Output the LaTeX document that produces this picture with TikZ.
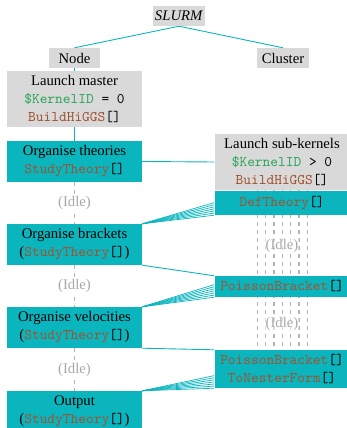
\documentclass[tikz,border=0pt]{standalone}
\usepackage{fontspec}
\setmainfont{Liberation Serif}
\setmonofont{lmmono10-regular}[Extension=.otf]
\usetikzlibrary{calc,backgrounds}

\definecolor{boxcyan}{HTML}{0BB5BE}
\definecolor{boxgray}{HTML}{D9D9D9}
\definecolor{codegreen}{HTML}{2CA55A}
\definecolor{codebrown}{HTML}{A0522D}
\definecolor{idlegray}{HTML}{A8A8A8}
\definecolor{dashgray}{HTML}{B4B4B4}

% code snippets
\newcommand\kernelid{\textcolor{codegreen}{\$KernelID}}
\newcommand\wlfun[1]{\textcolor{codebrown}{#1}[]}

\tikzset{
  basefont/.style={font=\fontsize{14.7}{18}\selectfont},
  plainbox/.style={rectangle, inner sep=0pt, align=center, basefont},
  graybox/.style={plainbox, fill=boxgray},
  cyanbox/.style={plainbox, fill=boxcyan, minimum width=135pt},
  conn/.style={draw=boxcyan, line width=0.9pt},
  fanline/.style={draw=boxcyan, line width=0.7pt},
  idleline/.style={draw=dashgray, line width=1.4pt, dash pattern=on 4pt off 4pt},
  idletext/.style={text=idlegray, basefont, inner sep=1pt},
}

\begin{document}
\begin{tikzpicture}[x=1pt, y=-1pt]
\useasboundingbox (0,0) rectangle (347,428);

% job scheduler and its two branches
\node[graybox, minimum width=52pt, minimum height=20pt] (slurm) at (179,16) {\textit{SLURM}};
\node[graybox, minimum width=51pt, minimum height=20pt] (node) at (74.5,58) {Node};
\node[graybox, minimum width=52pt, minimum height=20pt] (cluster) at (283,58) {Cluster};

% master kernel
\node[graybox, minimum width=135pt, minimum height=56pt] (master) at (74.5,99)
  {Launch master\\ \texttt{\kernelid{} = 0}\\ \texttt{\wlfun{BuildHiGGS}}};
\node[cyanbox, minimum height=41pt] (theories) at (74.5,161.5)
  {Organise theories\\ \texttt{\wlfun{StudyTheory}}};
\node[cyanbox, minimum height=41pt] (brackets) at (74.5,244.5)
  {Organise brackets\\ (\texttt{\wlfun{StudyTheory}})};
\node[cyanbox, minimum height=41pt] (velocities) at (74.5,327.5)
  {Organise velocities\\ (\texttt{\wlfun{StudyTheory}})};
\node[cyanbox, minimum height=41pt] (output) at (74.5,411.5)
  {Output\\ (\texttt{\wlfun{StudyTheory}})};

% sub-kernels
\node[graybox, minimum width=135pt, minimum height=56pt] (subk) at (282,162)
  {Launch sub-kernels\\ \texttt{\kernelid{} > 0}\\ \texttt{\wlfun{BuildHiGGS}}};
\node[cyanbox, minimum height=24pt] (deftheory) at (282,203)
  {\texttt{\wlfun{DefTheory}}};
\node[cyanbox, minimum height=21pt] (pb) at (282,286.5)
  {\texttt{\wlfun{PoissonBracket}}};
\node[cyanbox, minimum height=38pt] (pbtnf) at (282,369)
  {\texttt{\wlfun{PoissonBracket}}\\ \texttt{\wlfun{ToNesterForm}}};

\begin{scope}[on background layer]
  % hierarchy
  \draw[conn] (slurm.south) -- (node.north);
  \draw[conn] (slurm.south) -- (cluster.north);
  \draw[conn] (node.south) -- (master.north);
  \draw[conn] (master.south) -- (theories.north);
  \draw[conn] (theories.east) -- (subk.west);
  % jobs handed to the sub-kernels
  \draw[conn] (brackets.south east) -- (pb.north west);
  \draw[conn] (velocities.south east) -- (pbtnf.north west);
  % results gathered from the seven sub-kernels
  \foreach \k in {0,...,6} {
    \draw[fanline] (brackets.north east) -- ($(deftheory.south west)+(0,-2.1*\k)$);
    \draw[fanline] (velocities.north east) -- ($(pb.south west)+(0,-2.1*\k)$);
    \draw[fanline] (output.north east) -- ($(pbtnf.south west)+(0,-2.1*\k)$);
  }
  % idle sub-kernels
  \foreach \i in {0,...,6} {
    \draw[idleline] ($(subk.south)+(-24.7+8.33*\i,0)$) -- ($(pbtnf.north)+(-24.7+8.33*\i,0)$);
  }
\end{scope}

% idle master kernel
\draw[idleline] (theories.south) -- node[idletext, fill=white] {(Idle)} (brackets.north);
\draw[idleline] (brackets.south) -- node[idletext, fill=white] {(Idle)} (velocities.north);
\draw[idleline] (velocities.south) -- node[idletext, fill=white] {(Idle)} (output.north);

\node[idletext, fill=white, fill opacity=0.55, text opacity=1] (idleA) at ($(deftheory.south)!0.5!(pb.north)$) {(Idle)};
\node[idletext, fill=white, fill opacity=0.55, text opacity=1] (idleB) at ($(pb.south)!0.5!(pbtnf.north)$) {(Idle)};
\end{tikzpicture}
\end{document}
